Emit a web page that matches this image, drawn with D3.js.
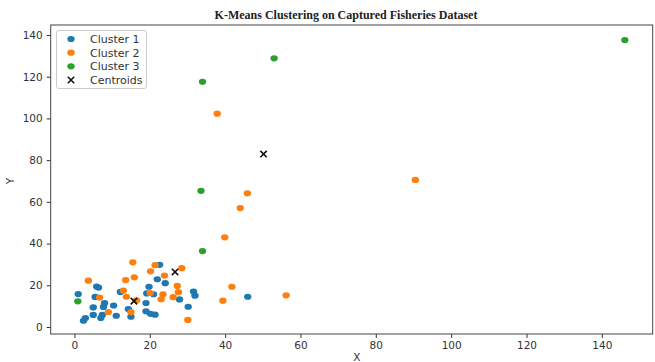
<!DOCTYPE html>
<html>
<head>
<meta charset="utf-8">
<script src="https://cdn.jsdelivr.net/npm/d3@7"></script>
<style>
  body { margin: 0; background: #fff; }
  svg { display: block; }
</style>
</head>
<body>
<svg id="chart" width="655" height="362"></svg>
<script>
// cluster points, [x, y]
const cluster1 = [
  [1.0, 15.8], [2.4, 3.0], [2.9, 4.3], [5.0, 5.8], [5.0, 9.4], [5.5, 14.4], [5.9, 19.4],
  [6.4, 18.9], [7.4, 5.8], [7.0, 4.3], [7.7, 9.6], [8.0, 11.4], [10.4, 10.3], [11.1, 5.4],
  [12.2, 16.8], [14.3, 8.6], [15.0, 4.9], [19.0, 11.5], [19.0, 7.5], [20.2, 6.3], [21.4, 5.9],
  [19.8, 19.3], [19.2, 16.1], [21.0, 15.7], [22.0, 22.9], [22.6, 29.8], [24.1, 21.0],
  [27.9, 13.2], [30.2, 9.7], [31.6, 17.0], [32.0, 15.0], [46.0, 14.5],
];
const cluster2 = [
  [3.7, 22.2], [6.7, 14.1], [9.0, 7.2], [13.0, 17.5], [13.6, 22.5], [13.8, 14.5], [15.5, 31.0],
  [15.0, 7.1], [15.9, 23.8], [16.5, 12.8], [20.2, 26.7], [20.1, 16.3], [21.4, 29.7], [23.0, 13.3],
  [23.5, 15.7], [23.9, 24.7], [26.2, 14.3], [27.3, 19.7], [27.6, 16.7], [28.5, 28.2], [30.1, 3.4],
  [37.9, 102.3], [39.4, 12.6], [39.9, 43.0], [41.8, 19.3], [44.0, 57.0], [45.9, 64.1],
  [56.2, 15.2], [90.5, 70.5],
];
const cluster3 = [
  [0.9, 12.3], [33.6, 65.3], [34.0, 36.4], [34.0, 117.6], [53.0, 128.8], [146.1, 137.6],
];
const centroids = [[15.8, 12.4], [26.7, 26.4], [50.2, 82.9]];

const seriesNames = ['Cluster 1', 'Cluster 2', 'Cluster 3', 'Centroids'];
const colors = ['#1f77b4', '#ff7f0e', '#2ca02c', '#000'];
const xTicks = [0, 20, 40, 60, 80, 100, 120, 140];
const yTicks = [0, 20, 40, 60, 80, 100, 120, 140];

const plotLeft = 50.7;
const plotRight = 652.7;
const plotTop = 25;
const plotBottom = 334;
const tickFont = '"DejaVu Sans", sans-serif';

const svg = d3.select('#chart');

const x = d3.scaleLinear().domain([-6.3, 153.5]).range([plotLeft, plotRight]);
const y = d3.scaleLinear().domain([-3.36, 144.8]).range([plotBottom, plotTop]);

// title
svg.append('text')
  .attr('x', 346)
  .attr('y', 19)
  .attr('text-anchor', 'middle')
  .attr('font-family', '"Liberation Serif", serif')
  .attr('font-weight', 'bold')
  .attr('font-size', 12)
  .attr('fill', '#222')
  .text('K-Means Clustering on Captured Fisheries Dataset');

// axes
const xAxis = svg.append('g')
  .attr('transform', `translate(0,${plotBottom})`)
  .call(d3.axisBottom(x).tickValues(xTicks).tickSize(4).tickPadding(4).tickSizeOuter(0));
const yAxis = svg.append('g')
  .attr('transform', `translate(${plotLeft},0)`)
  .call(d3.axisLeft(y).tickValues(yTicks).tickSize(4).tickPadding(4).tickSizeOuter(0));

[xAxis, yAxis].forEach((g) => {
  g.select('.domain').remove();
  g.selectAll('line').attr('stroke', '#333');
  g.selectAll('text')
    .attr('font-family', tickFont)
    .attr('font-size', 10.5)
    .attr('fill', '#333');
});

// frame
svg.append('rect')
  .attr('x', plotLeft)
  .attr('y', plotTop)
  .attr('width', plotRight - plotLeft)
  .attr('height', plotBottom - plotTop)
  .attr('fill', 'none')
  .attr('stroke', '#444')
  .attr('stroke-width', 1);

// axis labels
svg.append('text')
  .attr('x', x(75))
  .attr('y', 361)
  .attr('text-anchor', 'middle')
  .attr('font-family', tickFont)
  .attr('font-size', 10.5)
  .attr('fill', '#333')
  .text('X');
svg.append('text')
  .attr('transform', `translate(14,${y(70)}) rotate(-90)`)
  .attr('text-anchor', 'middle')
  .attr('font-family', tickFont)
  .attr('font-size', 10.5)
  .attr('fill', '#333')
  .text('Y');

// points
const plot = svg.append('g');
[cluster1, cluster2, cluster3].forEach((pts, i) => {
  plot.append('g')
    .selectAll('ellipse')
    .data(pts)
    .join('ellipse')
    .attr('cx', (d) => x(d[0]))
    .attr('cy', (d) => y(d[1]))
    .attr('rx', 3.7)
    .attr('ry', 3.1)
    .attr('fill', colors[i]);
});

const cross = (g, s) => {
  g.append('path')
    .attr('d', `M${-s},${-s}L${s},${s}M${-s},${s}L${s},${-s}`)
    .attr('stroke', '#111')
    .attr('stroke-width', 1.6)
    .attr('fill', 'none');
};

plot.append('g')
  .selectAll('g')
  .data(centroids)
  .join('g')
  .attr('transform', (d) => `translate(${x(d[0])},${y(d[1])})`)
  .each(function () { cross(d3.select(this), 3.2); });

// legend
const legend = svg.append('g');
legend.append('rect')
  .attr('x', 56.5)
  .attr('y', 30.5)
  .attr('width', 90)
  .attr('height', 58)
  .attr('rx', 2.5)
  .attr('fill', '#fff')
  .attr('fill-opacity', 0.8)
  .attr('stroke', '#ccc');

const rowY = [39, 52.7, 66.3, 80];
seriesNames.forEach((name, i) => {
  const row = legend.append('g').attr('transform', `translate(71,${rowY[i]})`);
  if (i < 3) {
    row.append('ellipse').attr('rx', 3.7).attr('ry', 3.1).attr('fill', colors[i]);
  } else {
    cross(row, 3.2);
  }
  row.append('text')
    .attr('x', 19)
    .attr('y', 4)
    .attr('font-family', tickFont)
    .attr('font-size', 11)
    .attr('fill', '#333')
    .text(name);
});
</script>
</body>
</html>
